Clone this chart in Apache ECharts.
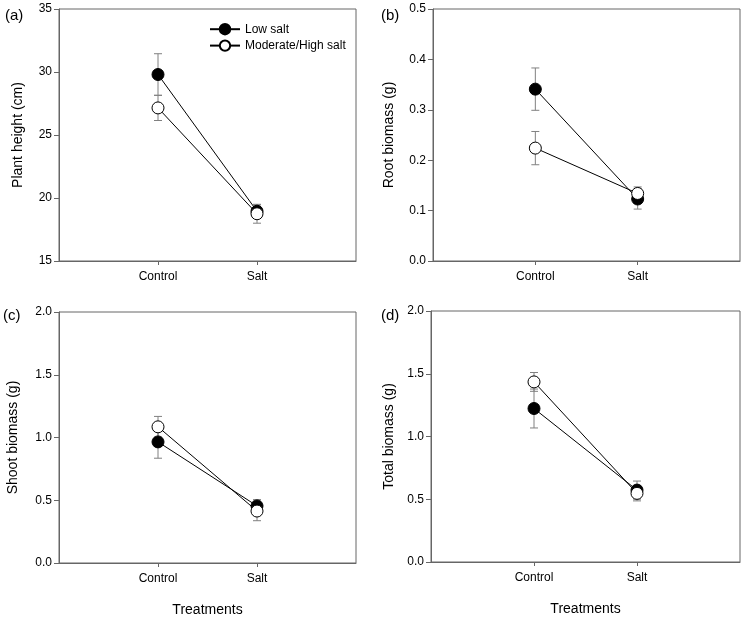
<!DOCTYPE html>
<html>
<head>
<meta charset="utf-8">
<script src="https://cdn.jsdelivr.net/npm/echarts@6/dist/echarts.min.js"></script>
<style>
html,body{margin:0;padding:0;background:#fff;}
#chart{width:745px;height:618px;}
</style>
</head>
<body>
<div id="chart"></div>
<script>
// ---- data ----
const categories = ['Control', 'Salt'];
const seriesNames = ['Low salt', 'Moderate/High salt'];

const heightLow = [29.8, 18.95];
const heightLowErr = [1.65, 0.5];
const heightMod = [27.15, 18.75];
const heightModErr = [1.0, 0.75];

const rootLow = [0.341, 0.123];
const rootLowErr = [0.042, 0.02];
const rootMod = [0.224, 0.134];
const rootModErr = [0.033, 0.013];

const shootLow = [0.965, 0.455];
const shootLowErr = [0.13, 0.05];
const shootMod = [1.085, 0.414];
const shootModErr = [0.083, 0.077];

const totalLow = [1.223, 0.573];
const totalLowErr = [0.155, 0.072];
const totalMod = [1.435, 0.547];
const totalModErr = [0.075, 0.06];

const panelLabels = ['(a)', '(b)', '(c)', '(d)'];
const yTitles = ['Plant height (cm)', 'Root biomass (g)', 'Shoot biomass (g)', 'Total biomass (g)'];
const yTicksA = [15, 20, 25, 30, 35];
const yTicksB = [0.0, 0.1, 0.2, 0.3, 0.4, 0.5];
const yTicksCD = [0.0, 0.5, 1.0, 1.5, 2.0];
const xTitle = 'Treatments';

// ---- layout ----
const FONT = '"Liberation Sans", Arial, sans-serif';
const grids = [
  {left: 59, top: 9, width: 297, height: 252},
  {left: 433, top: 9, width: 307, height: 252},
  {left: 59, top: 312, width: 297, height: 252},
  {left: 431, top: 311, width: 309, height: 251}
];
const yCfg = [
  {ticks: yTicksA, dec: 0, gap: 34},
  {ticks: yTicksB, dec: 1, gap: 37},
  {ticks: yTicksCD, dec: 1, gap: 39},
  {ticks: yTicksCD, dec: 1, gap: 35}
];
const panels = [
  [heightLow, heightLowErr, heightMod, heightModErr],
  [rootLow, rootLowErr, rootMod, rootModErr],
  [shootLow, shootLowErr, shootMod, shootModErr],
  [totalLow, totalLowErr, totalMod, totalModErr]
];

const axisColor = '#666';
const errColor = '#808080';

function lineData(vals) { return vals.map((v, i) => [i + 1, v]); }
function errData(vals, errs) { return vals.map((v, i) => [i + 1, v - errs[i], v + errs[i]]); }

function errRender(params, api) {
  const x = api.value(0), lo = api.value(1), hi = api.value(2);
  const pHi = api.coord([x, hi]), pLo = api.coord([x, lo]);
  const w = 4;
  const st = {stroke: errColor, lineWidth: 1};
  return {type: 'group', children: [
    {type: 'line', shape: {x1: pHi[0], y1: pHi[1], x2: pLo[0], y2: pLo[1]}, style: st},
    {type: 'line', shape: {x1: pHi[0] - w, y1: pHi[1], x2: pHi[0] + w, y2: pHi[1]}, style: st},
    {type: 'line', shape: {x1: pLo[0] - w, y1: pLo[1], x2: pLo[0] + w, y2: pLo[1]}, style: st}
  ]};
}

const option = {
  backgroundColor: '#fff',
  animation: false,
  textStyle: {fontFamily: FONT, color: '#000'},
  grid: grids.map(g => Object.assign({show: true, borderColor: axisColor, borderWidth: 1, containLabel: false}, g)),
  xAxis: grids.map((g, k) => ({
    type: 'value', gridIndex: k, min: 0, max: 3, interval: 1,
    splitLine: {show: false},
    axisLine: {show: true, lineStyle: {color: axisColor}},
    axisTick: {show: true, inside: false, length: 4, lineStyle: {color: axisColor}, customValues: [1, 2]},
    axisLabel: {color: '#000', fontSize: 12, fontFamily: FONT, margin: 10,
      customValues: [1, 2],
      formatter: v => categories[Math.round(v) - 1] || ''},
    name: k >= 2 ? xTitle : '',
    nameLocation: 'middle', nameGap: 40,
    nameTextStyle: {fontSize: 14, color: '#000', fontFamily: FONT}
  })),
  yAxis: yCfg.map((c, k) => ({
    type: 'value', gridIndex: k,
    min: c.ticks[0], max: c.ticks[c.ticks.length - 1],
    interval: c.ticks[1] - c.ticks[0],
    splitLine: {show: false},
    axisLine: {show: true, lineStyle: {color: axisColor}},
    axisTick: {show: true, inside: false, length: 5, lineStyle: {color: axisColor}},
    axisLabel: {color: '#000', fontSize: 12, fontFamily: FONT, margin: 7,
      formatter: v => v.toFixed(c.dec)},
    name: yTitles[k], nameLocation: 'middle', nameGap: c.gap,
    nameTextStyle: {fontSize: 14, color: '#000', fontFamily: FONT}
  })),
  legend: {
    show: true,
    data: seriesNames,
    orient: 'vertical',
    left: 204, top: 18,
    itemWidth: 30, itemHeight: 13, itemGap: 4,
    textStyle: {fontSize: 12, color: '#000', fontFamily: FONT},
    selectedMode: false
  },
  graphic: panelLabels.map((t, k) => ({
    type: 'text',
    left: [5, 381, 3, 381][k],
    top: [8, 8, 308, 308][k],
    style: {text: t, fontSize: 15, fontFamily: FONT, fill: '#000'}
  })),
  series: []
};

panels.forEach((p, k) => {
  const [lo, loE, mo, moE] = p;
  option.series.push({
    type: 'custom', xAxisIndex: k, yAxisIndex: k, z: 1,
    renderItem: errRender, data: errData(lo, loE),
    encode: {x: 0, y: [1, 2]}, silent: true
  });
  option.series.push({
    type: 'custom', xAxisIndex: k, yAxisIndex: k, z: 1,
    renderItem: errRender, data: errData(mo, moE),
    encode: {x: 0, y: [1, 2]}, silent: true
  });
  option.series.push({
    name: seriesNames[0], type: 'line', xAxisIndex: k, yAxisIndex: k, z: 3,
    data: lineData(lo), symbol: 'circle', symbolSize: 12,
    lineStyle: {color: '#000', width: 1},
    itemStyle: {color: '#000', borderColor: '#000', borderWidth: 1}
  });
  option.series.push({
    name: seriesNames[1], type: 'line', xAxisIndex: k, yAxisIndex: k, z: 4,
    data: lineData(mo), symbol: 'circle', symbolSize: 12,
    lineStyle: {color: '#000', width: 1},
    itemStyle: {color: '#fff', borderColor: '#000', borderWidth: 1}
  });
});

const chart = echarts.init(document.getElementById('chart'), null, {renderer: 'canvas'});
chart.setOption(option);
</script>
</body>
</html>
